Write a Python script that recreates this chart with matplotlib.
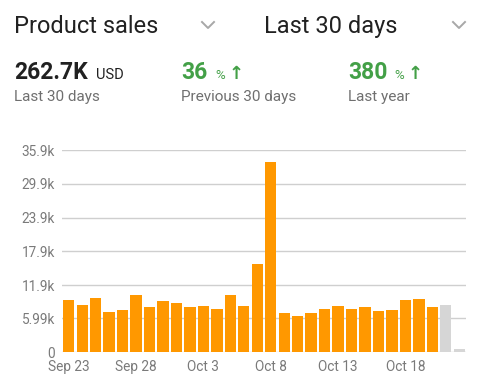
import matplotlib
matplotlib.use("Agg")
import matplotlib.pyplot as plt
from matplotlib.lines import Line2D

plt.rcParams['font.family'] = ['Roboto', 'DejaVu Sans']

# daily sales, Sep 23 .. Oct 22 (last two days still incomplete -> grey)
days = ["Sep 23", "Sep 24", "Sep 25", "Sep 26", "Sep 27", "Sep 28", "Sep 29", "Sep 30",
        "Oct 1", "Oct 2", "Oct 3", "Oct 4", "Oct 5", "Oct 6", "Oct 7", "Oct 8",
        "Oct 9", "Oct 10", "Oct 11", "Oct 12", "Oct 13", "Oct 14", "Oct 15", "Oct 16",
        "Oct 17", "Oct 18", "Oct 19", "Oct 20", "Oct 21", "Oct 22"]
sales = [9170, 8280, 9580, 7160, 7450, 10100, 8050, 9050, 8640, 7930,
         8100, 7630, 10060, 8100, 15700, 33700, 6860, 6390, 6980, 7690,
         8220, 7690, 7930, 7280, 7400, 9290, 9470, 8050, 8400, 600]
partial = [False] * 28 + [True, True]
tick_labels = ["Sep 23", "Sep 28", "Oct 3", "Oct 8", "Oct 13", "Oct 18"]
y_ticks = [0, 5990, 11900, 17900, 23900, 29900, 35900]
y_labels = ["0", "5.99k", "11.9k", "17.9k", "23.9k", "29.9k", "35.9k"]

W, H = 500, 384
fig = plt.figure(figsize=(W / 100, H / 100), dpi=100)
fig.patch.set_facecolor("white")


def px(x, y):
    return x / W, 1 - y / H


ax = fig.add_axes([62 / W, 1 - 352 / H, 404 / W, 202 / H])
colors = ["#d6d6d6" if p else "#ff9800" for p in partial]
x = list(range(len(days)))
ax.bar(x, sales, width=0.84, color=colors, zorder=3)
ax.set_xlim(-0.5, len(days) - 0.5)
ax.set_ylim(0, 35900)
ax.set_yticks(y_ticks)
ax.set_yticklabels(y_labels)
ax.set_xticks([days.index(t) for t in tick_labels])
ax.set_xticklabels(tick_labels)
ax.grid(axis="y", color="#cfcfcf", linewidth=1, zorder=0)
ax.set_axisbelow(True)
for s in ax.spines.values():
    s.set_visible(False)
ax.tick_params(axis="both", length=0, colors="#7a7a7a", labelsize=9.8)
ax.tick_params(axis="y", pad=5)
ax.tick_params(axis="x", pad=6)
for lbl in ax.get_yticklabels():
    lbl.set_clip_on(False)

dark = "#212121"
grey = "#6f6f6f"
green = "#43a047"

# header row with dropdowns
fig.text(*px(14, 33), "Product sales", fontsize=17, color=dark, va="baseline")
fig.text(*px(264, 33), "Last 30 days", fontsize=17, color=dark, va="baseline")
for cx in (208, 459):
    fig.add_artist(Line2D([(cx - 6) / W, cx / W, (cx + 6) / W],
                          [1 - 22 / H, 1 - 28 / H, 1 - 22 / H],
                          color="#a8a8a8", linewidth=1.4))

# summary figures
fig.text(*px(14, 79), "262.7K", fontsize=16.5, fontweight="bold", color=dark, va="baseline")
fig.text(*px(96, 79), "USD", fontsize=10.5, color=dark, va="baseline")
fig.text(*px(14, 101), "Last 30 days", fontsize=11, color=grey, va="baseline")

fig.text(*px(181, 79), "36", fontsize=16.5, fontweight="bold", color=green, va="baseline")
fig.text(*px(215, 79), "%", fontsize=9.5, color=green, va="baseline")
fig.text(*px(229, 79), "\u2191", fontsize=13, fontweight="bold", color=green,
         va="baseline", family="DejaVu Sans")
fig.text(*px(181, 101), "Previous 30 days", fontsize=11, color=grey, va="baseline")

fig.text(*px(348, 79), "380", fontsize=16.5, fontweight="bold", color=green, va="baseline")
fig.text(*px(394, 79), "%", fontsize=9.5, color=green, va="baseline")
fig.text(*px(408, 79), "\u2191", fontsize=13, fontweight="bold", color=green,
         va="baseline", family="DejaVu Sans")
fig.text(*px(348, 101), "Last year", fontsize=11, color=grey, va="baseline")

fig.savefig("out.png", dpi=100)
